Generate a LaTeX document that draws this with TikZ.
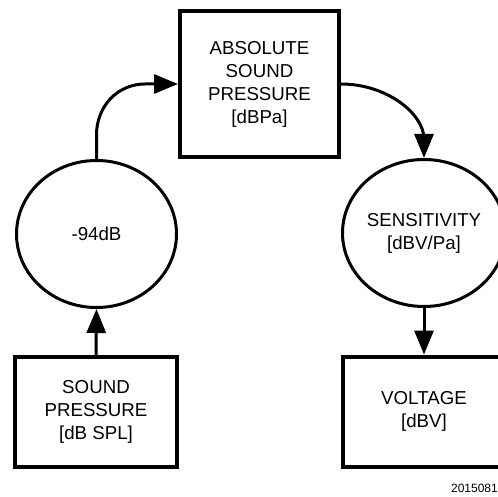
\documentclass[tikz,border=0pt]{standalone}
\usepackage{fontspec}
\setmainfont{Liberation Sans}
\usetikzlibrary{shapes.geometric,arrows.meta}
\tikzset{
  blockbox/.style={draw, line width=4pt, minimum width=162pt, minimum height=110pt, inner sep=0pt, align=center, font=\fontsize{18.7}{23}\selectfont},
  ovalnode/.style={draw, ellipse, line width=3pt, minimum width=160pt, minimum height=147pt, inner sep=0pt, align=center, font=\fontsize{18.7}{23}\selectfont},
  flow/.style={line width=3pt, -{Triangle[length=24pt,width=19pt]}},
  figid/.style={font=\fontsize{12}{14}\selectfont, anchor=east, inner sep=0pt}
}
\begin{document}
\begin{tikzpicture}[x=1pt,y=1pt]
\useasboundingbox (0,0) rectangle (498,496);
\clip (0,0) rectangle (498,496);
\node[blockbox, minimum width=159pt, minimum height=146pt] (abs) at (259.5,412) {ABSOLUTE\\SOUND\\PRESSURE\\[0pt][dBPa]};
\node[ovalnode] (db) at (96.5,262) {-94dB};
\node[ovalnode, minimum width=163pt] (sens) at (424,263) {SENSITIVITY\\[0pt][dBV/Pa]};
\node[blockbox] (spl) at (96,84) {SOUND\\PRESSURE\\[0pt][dB SPL]};
\node[blockbox] (volt) at (424,84.5) {VOLTAGE\\[0pt][dBV]};
\node[figid] (fid) at (498,7.5) {2015081};
\draw[flow] (spl.north) -- (db.south);
\draw[flow] (db.north) -- (96.5,361) .. controls (96.5,389.7) and (117.5,412) .. (145,412) -- (abs.west);
\draw[flow] (abs.east) .. controls (387,412) and (424,382) .. (424,357) -- (sens.north);
\draw[flow] (sens.south) -- (volt.north);
\end{tikzpicture}
\end{document}
